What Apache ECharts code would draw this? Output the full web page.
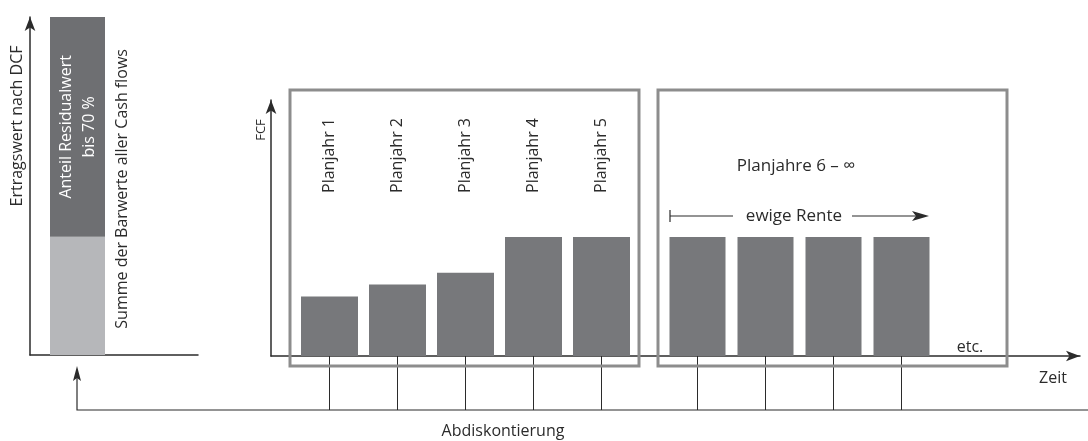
<!DOCTYPE html>
<html>
<head>
<meta charset="utf-8">
<script src="https://cdn.jsdelivr.net/npm/echarts@6/dist/echarts.min.js"></script>
<style>
  html, body { margin: 0; padding: 0; background: #fff; }
  #chart { width: 1088px; height: 441px; }
</style>
</head>
<body>
<div id="chart"></div>
<script>
// Daten
var wertKategorie = ['Ertragswert'];
var barwerte = [35];      // Summe der Barwerte aller Cash flows
var residualwert = [65];  // Anteil Residualwert
var wertMax = 100;

var planjahre = ['Planjahr 1', 'Planjahr 2', 'Planjahr 3', 'Planjahr 4', 'Planjahr 5'];
var fcfPlan = [100, 120, 140, 200, 200];
var renteJahre = ['Planjahr 6', 'Planjahr 7', 'Planjahr 8', 'Planjahr 9'];
var fcfRente = [200, 200, 200, 200];
var fcfMax = 430;

var FONT = 'Open Sans';
var FS = 16;
var INK = '#2b2b2b';
var dunkel = '#6e6f72';
var hell = '#b6b7ba';

var chart = echarts.init(document.getElementById('chart'));

var axisOff = { show: false };
var pfeil = { show: true, symbol: ['none', 'arrow'], symbolSize: [8, 14], lineStyle: { color: INK, width: 1.5 } };

function hidden(grid, extra) {
    var a = {
        gridIndex: grid, axisLine: axisOff, axisTick: axisOff,
        axisLabel: axisOff, splitLine: axisOff
    };
    for (var k in extra) a[k] = extra[k];
    return a;
}

function text(x, y, s, size, rot) {
    return {
        type: 'text', x: x, y: y, rotation: rot || 0, z: 10,
        style: {
            text: s, fill: INK, font: (size || FS) + 'px "' + FONT + '"',
            textAlign: 'center', textVerticalAlign: 'middle'
        }
    };
}

option = {
    animation: false,
    textStyle: { fontFamily: FONT },
    grid: [
        { left: 30, top: 17, width: 168, height: 338 },   // Achsen links
        { left: 30, top: 17, width: 95, height: 338 },    // Säule links
        { left: 271, top: 100, right: 8, height: 256 },   // Achsen FCF / Zeit
        { left: 295.5, top: 100, width: 340, height: 256 }, // Planjahre 1-5
        { left: 663.5, top: 100, width: 272, height: 256 }  // ewige Rente
    ],
    xAxis: [
        hidden(0, { type: 'value', min: 0, max: 1, axisLine: { show: true, lineStyle: { color: INK, width: 1.5 } } }),
        hidden(1, { type: 'category', data: wertKategorie }),
        hidden(2, { type: 'value', min: 0, max: 1, axisLine: pfeil }),
        hidden(3, {
            type: 'category', data: planjahre,
            axisTick: { show: true, interval: 0, alignWithLabel: true, length: 54, lineStyle: { color: INK, width: 1 } }
        }),
        hidden(3, {
            type: 'category', data: planjahre, position: 'top',
            axisLabel: { show: true, inside: true, rotate: -90, margin: 18, interval: 0, fontSize: FS, color: INK, fontFamily: FONT }
        }),
        hidden(4, {
            type: 'category', data: renteJahre,
            axisTick: { show: true, interval: 0, alignWithLabel: true, length: 54, lineStyle: { color: INK, width: 1 } }
        })
    ],
    yAxis: [
        hidden(0, { type: 'value', min: 0, max: wertMax, axisLine: pfeil }),
        hidden(1, { type: 'value', min: 0, max: wertMax }),
        hidden(2, { type: 'value', min: 0, max: fcfMax, axisLine: pfeil }),
        hidden(3, { type: 'value', min: 0, max: fcfMax }),
        hidden(4, { type: 'value', min: 0, max: fcfMax })
    ],
    series: [
        {
            type: 'bar', xAxisIndex: 1, yAxisIndex: 1, stack: 'wert', barWidth: 55,
            data: barwerte, itemStyle: { color: hell },
            label: {
                show: true, position: [72, 92], rotate: 90, align: 'left', verticalAlign: 'middle',
                formatter: 'Summe der Barwerte aller Cash flows', fontSize: FS, color: INK, fontFamily: FONT
            }
        },
        {
            type: 'bar', xAxisIndex: 1, yAxisIndex: 1, stack: 'wert', barWidth: 55,
            data: residualwert, itemStyle: { color: dunkel },
            label: {
                show: true, position: 'inside', rotate: 90, lineHeight: 23,
                formatter: 'Anteil Residualwert\nbis 70 %', fontSize: FS, color: '#fff', fontFamily: FONT
            }
        },
        {
            type: 'bar', xAxisIndex: 3, yAxisIndex: 3, barWidth: 57,
            data: fcfPlan, itemStyle: { color: '#77787b' }
        },
        {
            type: 'bar', xAxisIndex: 5, yAxisIndex: 4, barWidth: 56,
            data: fcfRente, itemStyle: { color: '#77787b' }
        }
    ],
    graphic: [
        { type: 'rect', shape: { x: 290, y: 90, width: 349, height: 276 }, style: { fill: null, stroke: '#8d8d8d', lineWidth: 3 }, z: 5 },
        { type: 'rect', shape: { x: 658, y: 90, width: 349, height: 276 }, style: { fill: null, stroke: '#8d8d8d', lineWidth: 3 }, z: 5 },
        text(17, 126, 'Ertragswert nach DCF', FS, Math.PI / 2),
        text(261, 130, 'FCF', 13, Math.PI / 2),
        text(796, 166, 'Planjahre 6 – ∞', 17),
        text(794, 216, 'ewige Rente', 17),
        text(970, 347, 'etc.', FS),
        text(1053, 378, 'Zeit', FS),
        text(503, 431, 'Abdiskontierung', FS),
        { type: 'polyline', shape: { points: [[670, 210], [670, 222]] }, style: { stroke: INK, lineWidth: 1.2 } },
        { type: 'polyline', shape: { points: [[670, 216], [733, 216]] }, style: { stroke: INK, lineWidth: 1.2 } },
        { type: 'polyline', shape: { points: [[852, 216], [918, 216]] }, style: { stroke: INK, lineWidth: 1.2 } },
        { type: 'polygon', shape: { points: [[929, 216], [912, 211], [916, 216], [912, 221]] }, style: { fill: INK } },
        { type: 'polyline', shape: { points: [[1088, 410], [77, 410], [77, 375]] }, style: { stroke: INK, lineWidth: 1.2 } },
        { type: 'polygon', shape: { points: [[77, 366], [73, 381], [77, 378], [81, 381]] }, style: { fill: INK } }
    ]
};
chart.setOption(option);
window.addEventListener('resize', chart.resize);
</script>
</body>
</html>
